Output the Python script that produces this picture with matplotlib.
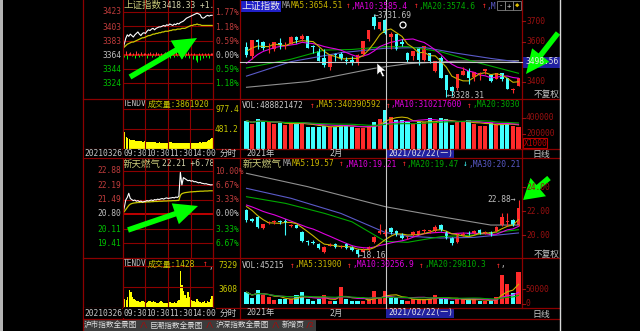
import numpy as np
import pandas as pd
import matplotlib
matplotlib.use("Agg")
import matplotlib.pyplot as plt
from matplotlib.patches import Rectangle, Circle, Polygon, FancyArrow

# ---------------- data ----------------
# 上证指数 daily bars 2021-01-11 .. 2021-03-26
sh_open = [3572, 3527, 3609, 3597, 3565, 3563, 3592, 3580, 3588, 3619, 3611, 3625, 3574, 3554, 3517, 3473, 3540,
           3539, 3507, 3508, 3493, 3540, 3610, 3720, 3660, 3705, 3622, 3634, 3599, 3543, 3526, 3566, 3508, 3544,
           3452, 3518, 3434, 3374, 3371, 3436, 3454, 3424, 3437, 3452, 3432, 3414, 3442, 3419, 3359, 3380]
sh_high = [3599, 3608, 3611, 3600, 3591, 3598, 3615, 3595, 3625, 3625, 3637, 3628, 3582, 3565, 3560, 3534, 3545,
           3546, 3522, 3528, 3537, 3604, 3655, 3732, 3697, 3712, 3648, 3634, 3612, 3547, 3552, 3566, 3577, 3544,
           3505, 3530, 3435, 3382, 3437, 3474, 3469, 3449, 3449, 3463, 3432, 3444, 3442, 3419, 3370, 3421]
sh_low = [3522, 3512, 3563, 3555, 3544, 3553, 3564, 3564, 3586, 3592, 3600, 3565, 3544, 3503, 3476, 3460, 3503,
          3506, 3487, 3486, 3483, 3530, 3603, 3663, 3654, 3636, 3563, 3555, 3579, 3496, 3510, 3483, 3502, 3495,
          3447, 3421, 3328, 3330, 3360, 3436, 3391, 3405, 3412, 3437, 3400, 3414, 3405, 3365, 3346, 3378]
sh_close = [3531, 3608, 3599, 3566, 3566, 3596, 3583, 3583, 3621, 3607, 3624, 3569, 3573, 3505, 3483, 3534, 3533,
            3517, 3502, 3496, 3532, 3603, 3655, 3675, 3696, 3642, 3636, 3564, 3585, 3509, 3551, 3509, 3577, 3503,
            3502, 3421, 3359, 3358, 3437, 3453, 3420, 3447, 3446, 3463, 3405, 3443, 3414, 3367, 3364, 3418]
sh_prior = [3397, 3379, 3414, 3473, 3503, 3528, 3550, 3576, 3570]
sh_vol = [354000, 312000, 375000, 342000, 333000, 312000, 321000, 300000, 333000, 321000, 333000, 279000, 271000,
          271000, 292000, 279000, 279000, 300000, 300000, 279000, 258000, 258000, 279000, 333000, 375000, 488821,
          396000, 367000, 367000, 333000, 312000, 342000, 333000, 383000, 333000, 383000, 375000, 300000, 333000,
          333000, 367000, 312000, 292000, 292000, 321000, 300000, 321000, 321000, 285000, 279000]
sh_ma20_i = [0, 8, 14, 19, 25, 29, 35, 41, 49]
sh_ma20 = [3469, 3512, 3557, 3560, 3574, 3574, 3549, 3500, 3443]
sh_ma30_i = [0, 8, 17, 25, 32, 38, 44, 49]
sh_ma30 = [3429, 3500, 3544, 3566, 3570, 3541, 3516, 3498]
sh_ma60_i = [0, 11, 23, 29, 38, 49]
sh_ma60 = [3374, 3402, 3467, 3490, 3503, 3505]

# 新天燃气 daily bars, same dates
xt_open = [22.08, 21.30, 21.53, 20.61, 20.97, 21.05, 21.15, 21.20, 20.75, 20.80, 20.28, 19.45, 19.45, 19.22, 18.61,
           19.12, 19.22, 19.00, 19.22, 19.03, 18.75, 18.61, 18.80, 19.39, 20.14, 20.05, 20.61, 20.33, 20.06, 19.80,
           20.00, 20.11, 20.30, 20.30, 20.33, 20.83, 20.28, 19.72, 19.39, 20.00, 20.20, 20.20, 20.42, 20.18, 20.22,
           20.33, 20.83, 21.10, 21.25, 20.83]
xt_high = [22.20, 21.40, 21.60, 20.95, 21.20, 21.25, 21.25, 21.30, 20.95, 20.85, 20.35, 19.55, 19.55, 19.30, 19.10,
           19.30, 19.30, 19.15, 19.30, 19.10, 18.80, 18.90, 19.10, 19.90, 20.90, 20.50, 20.70, 20.40, 20.15, 19.95,
           20.30, 20.40, 20.50, 20.45, 20.80, 20.95, 20.35, 19.80, 20.15, 20.25, 20.30, 20.40, 20.50, 20.35, 20.30,
           20.75, 21.80, 21.80, 21.35, 22.88]
xt_low = [21.10, 21.05, 20.60, 20.50, 20.90, 20.95, 20.95, 20.00, 20.65, 20.55, 19.40, 19.20, 19.25, 18.85, 18.50,
          19.05, 18.95, 18.90, 18.85, 18.65, 18.16, 18.55, 18.70, 19.30, 20.05, 19.95, 20.10, 19.95, 19.65, 19.70,
          19.95, 20.05, 20.20, 20.20, 20.25, 20.35, 19.65, 19.20, 19.30, 19.90, 20.00, 20.10, 20.05, 20.10, 19.95,
          20.25, 20.75, 20.75, 20.75, 20.75]
xt_close = [21.25, 21.15, 20.69, 20.89, 21.11, 21.12, 21.05, 21.10, 20.85, 20.60, 19.50, 19.38, 19.35, 18.94, 19.03,
            19.20, 19.00, 19.05, 18.94, 18.75, 18.39, 18.80, 19.00, 19.80, 20.33, 20.15, 20.22, 20.00, 19.72, 19.90,
            20.22, 20.33, 20.40, 20.36, 20.69, 20.42, 19.72, 19.31, 20.06, 20.10, 20.10, 20.30, 20.14, 20.25, 20.00,
            20.69, 21.53, 21.15, 20.80, 22.21]
xt_prior = [22.70, 22.55, 22.80, 22.60, 22.45, 22.75, 22.85, 22.60, 22.40]
xt_vol = [41000, 21000, 46600, 32000, 23300, 12300, 15600, 15600, 17800, 32000, 41000, 15600, 10000, 17800, 32000,
          10000, 10000, 60000, 17800, 10000, 10000, 10000, 15600, 45600, 21000, 45215, 25500, 21000, 12300, 10000,
          15600, 17800, 17800, 17800, 32000, 25500, 15600, 10000, 15600, 15600, 17800, 15600, 10000, 10000, 9000,
          25500, 99000, 67700, 37800, 110000]
xt_ma20_i = [0, 7, 14, 19, 25, 29, 35, 41, 49]
xt_ma20 = [23.19, 22.64, 21.81, 21.10, 19.47, 19.39, 19.86, 20.00, 20.44]
xt_ma30_i = [0, 8, 17, 25, 29, 35, 41, 49]
xt_ma30 = [23.89, 23.06, 21.80, 20.21, 19.90, 19.75, 19.80, 20.17]
xt_ma60_i = [0, 11, 25, 35, 44, 49]
xt_ma60 = [25.14, 24.03, 22.36, 21.53, 20.83, 20.83]

# intraday 2021-03-26, one value every 4 minutes
sh_px = [3370, 3378, 3386, 3391, 3389, 3392, 3390, 3388, 3391, 3393, 3395, 3392, 3390, 3393, 3394, 3393, 3396,
         3398, 3397, 3399, 3400, 3398, 3400, 3401, 3402, 3402, 3403, 3404, 3403, 3405, 3404, 3406, 3405, 3404,
         3406, 3405, 3407, 3406, 3408, 3409, 3410, 3412, 3414, 3415, 3416, 3417, 3418, 3419, 3420, 3421, 3420,
         3419, 3415, 3414, 3415, 3417, 3418, 3417, 3418, 3418]
sh_avg = [3372, 3374, 3376, 3378, 3379, 3380, 3381, 3381, 3382, 3383, 3384, 3385, 3386, 3387, 3387, 3388, 3389,
          3390, 3390, 3391, 3392, 3392, 3393, 3393, 3394, 3394, 3395, 3395, 3396, 3396, 3396, 3397, 3397, 3398,
          3398, 3398, 3399, 3399, 3399, 3400, 3400, 3400, 3401, 3402, 3403, 3404, 3404, 3405, 3405, 3406, 3405,
          3405, 3404, 3404, 3404, 3404, 3404, 3404, 3404, 3404]
sh_force = [4, -3, 5, -6, 3, 4, -2, 3, -4, 5, 2, -3, 4, -2, 3, 3, -5, 2, 4, -3, 3, -2, 4, 2, -4, 3, -3, 2, 4, -2,
            3, -4, 2, 3, -3, 4, -2, 3, 2, -4, 3, -3, 2, 4, -5, 3, -6, 2, -8, -10, 3, -7, 2, -4, 3, -3, 2, -5, 3, 2]
sh_ivol = [935, 420, 300, 260, 240, 230, 220, 210, 200, 205, 195, 190, 185, 180, 185, 175, 170, 170, 165, 160,
           165, 160, 155, 150, 160, 150, 145, 150, 140, 145, 260, 170, 160, 150, 155, 145, 140, 150, 145, 140,
           150, 145, 140, 135, 145, 150, 140, 145, 150, 155, 150, 160, 155, 160, 170, 180, 190, 210, 240, 280]
sh_base = 3363.59

xt_px = [20.84, 21.10, 21.48, 21.60, 21.80, 21.55, 21.50, 21.45, 21.48, 21.42, 21.45, 21.40, 21.43, 21.38, 21.40,
         21.42, 21.45, 21.43, 21.46, 21.48, 21.45, 21.50, 21.48, 21.52, 21.50, 21.53, 21.55, 21.52, 21.56, 21.58,
         21.55, 21.57, 21.58, 21.60, 21.58, 21.62, 21.60, 21.65, 22.80, 22.20, 22.55, 22.50, 22.45, 22.40, 22.42,
         22.38, 22.40, 22.35, 22.36, 22.33, 22.30, 22.32, 22.28, 22.27, 22.25, 22.26, 22.23, 22.22, 22.20, 22.21]
xt_avg = [20.84, 20.92, 21.02, 21.12, 21.22, 21.28, 21.31, 21.33, 21.34, 21.35, 21.36, 21.36, 21.37, 21.37, 21.38,
          21.38, 21.39, 21.39, 21.39, 21.40, 21.40, 21.41, 21.41, 21.41, 21.42, 21.42, 21.42, 21.43, 21.43, 21.43,
          21.44, 21.44, 21.44, 21.45, 21.45, 21.45, 21.46, 21.46, 21.70, 21.78, 21.81, 21.83, 21.84, 21.85, 21.86,
          21.87, 21.87, 21.88, 21.88, 21.89, 21.89, 21.90, 21.90, 21.90, 21.91, 21.91, 21.91, 21.92, 21.92, 21.92]
xt_ivol = [2200, 1500, 1300, 1800, 3000, 2600, 1800, 1400, 1200, 1100, 1000, 900, 1100, 1000, 900, 800, 900, 1100,
           1000, 900, 1000, 900, 800, 700, 900, 1000, 900, 800, 700, 800, 1600, 900, 700, 800, 900, 800, 1000,
           1200, 6400, 4000, 2800, 2200, 1600, 2600, 1800, 1300, 1100, 1000, 900, 1400, 1000, 900, 800, 900, 1100,
           800, 1000, 900, 1500, 1900]
xt_base = 20.80

# ---------------- drawing ----------------
W, H = 640, 331
MONO = ['DejaVu Sans Mono', 'Noto Sans CJK SC']
CJK = ['Noto Sans CJK SC', 'DejaVu Sans']
RED, CYAN = '#ff2a2a', '#40ffff'
BORDER = '#8c0000'
C_MA5, C_MA10, C_MA20, C_MA30, C_MA60 = '#c8b400', '#e000e0', '#00a800', '#5a5ac8', '#909090'
AXLBL = '#9a1010'

fig = plt.figure(figsize=(6.4, 3.31), dpi=100, facecolor='black')
ov = fig.add_axes([0, 0, 1, 1])
ov.set_xlim(0, W)
ov.set_ylim(H, 0)
ov.axis('off')
ov.set_zorder(10)
ov.patch.set_alpha(0)


def pax(x0, y0, x1, y1):
    ax = fig.add_axes([x0 / W, 1 - y1 / H, (x1 - x0) / W, (y1 - y0) / H])
    ax.set_facecolor('black')
    ax.set_xticks([])
    ax.set_yticks([])
    for s in ax.spines.values():
        s.set_visible(False)
    return ax


def put(x, y, s, color='#c0c0c0', size=5.7, fam=MONO, ha='left', ax=None):
    target = ax if ax is not None else ov
    return target.text(x, y, s, color=color, fontsize=size, family=fam, ha=ha, va='center',
                       transform=ov.transData, clip_on=ax is not None)


def ma(vals, prior, n):
    s = pd.Series(list(prior) + list(vals), dtype=float)
    return s.rolling(n, min_periods=1).mean().values[len(prior):]


def candles(ax, o, h, l, c, tiny):
    o, h, l, c = map(np.asarray, (o, h, l, c))
    x = np.arange(len(o))
    col = np.where(c >= o, RED, CYAN)
    ax.vlines(x, l, h, colors=col, lw=0.8)
    ax.bar(x, np.maximum(np.abs(c - o), tiny), bottom=np.minimum(o, c), width=0.64, color=col, lw=0)
    return col


def kpanel(box, o, h, l, c, prior, ylim, tiny, mas):
    ax = pax(*box)
    x = np.arange(len(c))
    for idx, vals, col in mas:
        ax.plot(idx, vals, color=col, lw=0.8)
    ax.plot(x, ma(c, prior, 10), color=C_MA10, lw=0.8)
    ax.plot(x, ma(c, prior, 5), color=C_MA5, lw=0.8)
    col = candles(ax, o, h, l, c, tiny)
    ax.set_xlim(-1.17, 49.63)
    ax.set_ylim(*ylim)
    return col


def vpanel(box, vol, col, top):
    ax = pax(*box)
    x = np.arange(len(vol))
    ax.bar(x, vol, width=0.74, color=col, lw=0)
    for n, c in ((5, C_MA5), (10, C_MA10), (20, C_MA20)):
        ax.plot(x, pd.Series(vol, dtype=float).rolling(n, min_periods=1).mean(), color=c, lw=0.8)
    ax.set_xlim(-1.17, 49.63)
    ax.set_ylim(0, top)


# right K-line panels
col1 = kpanel((240, 0, 522, 99), sh_open, sh_high, sh_low, sh_close, sh_prior, (3316.4, 3803.3), 4,
              [(sh_ma60_i, sh_ma60, C_MA60), (sh_ma30_i, sh_ma30, C_MA30), (sh_ma20_i, sh_ma20, C_MA20)])
vpanel((240, 99, 522, 149), sh_vol, col1, 625000)
col2 = kpanel((240, 158, 522, 258), xt_open, xt_high, xt_low, xt_close, xt_prior, (18.083, 26.417), 0.08,
              [(xt_ma60_i, xt_ma60, C_MA60), (xt_ma30_i, xt_ma30, C_MA30), (xt_ma20_i, xt_ma20, C_MA20)])
vpanel((240, 258, 522, 304), xt_vol, col2, 158600)


# left intraday panels
def ipanel(box, px, avg, base, ylim, levels):
    ax = pax(*box)
    t = np.arange(len(px)) * 4
    for v in levels:
        ax.axhline(v, color=BORDER, lw=0.8)
    ax.axhline(base, color='#c00000', lw=1.4)
    for tv in (60, 120, 180):
        ax.axvline(tv, color=BORDER, lw=0.8)
    ax.plot(t, avg, color='#c8c800', lw=0.9)
    ax.plot(t, px, color='white', lw=0.8)
    ax.set_xlim(0, 238)
    ax.set_ylim(*ylim)
    return ax, t


axL1, tL = ipanel((122.7, 0, 213, 99), sh_px, sh_avg, sh_base, (3302.3, 3439.2), [3423, 3403, 3383, 3344, 3324])
f = np.array(sh_force)
axL1.vlines(tL[f > 0], sh_base, sh_base + f[f > 0], colors='#ff4040', lw=0.7)
axL1.vlines(tL[f < 0], sh_base, sh_base + f[f < 0], colors='#00ff00', lw=0.7)
axL2, _ = ipanel((122.7, 158, 213, 258), xt_px, xt_avg, xt_base, (18.707, 23.487),
                 [22.88, 22.19, 21.49, 20.11, 19.41])


def ivol(box, vol, top, lines):
    ax = pax(*box)
    t = np.arange(len(vol)) * 4
    for v in lines:
        ax.axhline(v, color=BORDER, lw=0.8)
    for tv in (60, 120, 180):
        ax.axvline(tv, color=BORDER, lw=0.8)
    ax.bar(t, vol, width=3.4, color='#ffff00', lw=0, align='edge')
    ax.set_xlim(0, 240)
    ax.set_ylim(0, top)
    return ax


axV1 = ivol((122.7, 99, 213, 149), sh_ivol, 1220, [977.4, 481.2])
axV2 = ivol((122.7, 258, 213, 307), xt_ivol, 8760, [7329, 3608])

# ---------- frame lines ----------
for y in (99, 149, 158, 258, 308, 319):
    ov.plot([83, 560], [y, y], color=BORDER, lw=0.9)
for x, y1 in ((83, 331), (122.7, 319), (213, 308), (240, 319), (522, 308)):
    ov.plot([x, x], [0, y1], color=BORDER, lw=0.9)
ov.add_patch(Rectangle((0, 0), 2.5, H, color='#b4b4b4', lw=0))
ov.plot([560, 560], [0, H], color='#d8d8d8', lw=1.0)

# crosshair
ov.plot([386, 386], [0, 308], color='#c8c8c8', lw=0.8)
ov.plot([240, 522], [62, 62], color='#c8c8c8', lw=0.8)
ov.add_patch(Circle((403, 25), 3, fill=False, ec='white', lw=0.9))
ov.add_patch(Polygon([(377, 63), (377, 75), (380, 72), (382.5, 77), (384.5, 76), (382, 71), (386, 71)],
                     closed=True, fc='white', ec='black', lw=0.4))

# ---------- left texts ----------
put(123, 5, '上证指数', '#c8c878', 6.8, CJK, ax=axL1)
put(162, 5, '3418.33 +1.', '#d8d8b0', ax=axL1)
for v, y, c in (('3423', 11.7, '#c03c3c'), ('3403', 27.3, '#c03c3c'), ('3383', 41.7, '#c03c3c'),
                ('3364', 55, '#c0c0c0'), ('3344', 70, '#00c000'), ('3324', 83.3, '#00c000')):
    put(121, y, v, c, ha='right')
for v, y, c in (('1.77%', 12.5, '#c03c3c'), ('1.18%', 27.3, '#c03c3c'), ('0.59%', 41.7, '#c03c3c'),
                ('0.00%', 55, '#c0c0c0'), ('0.59%', 70, '#00c000'), ('1.18%', 83.3, '#00c000')):
    put(215, y, v, c)
put(123, 104, 'TENDV', '#c0c0c0', ax=axV1)
put(148, 104, '成交量:3861920', '#c8c800', ax=axV1)
put(215, 110, '977.4', '#c8c800')
put(215, 130, '481.2', '#c8c800')

put(123, 164, '新天燃气', '#c8c878', 6.8, CJK, ax=axL2)
put(162, 164, '22.21 +6.78', '#d8d8b0', ax=axL2)
for v, y, c in (('22.88', 170.7, '#c03c3c'), ('22.19', 185, '#c03c3c'), ('21.49', 199.3, '#c03c3c'),
                ('20.80', 213.3, '#c0c0c0'), ('20.11', 229, '#00c000'), ('19.41', 243.3, '#00c000')):
    put(121, y, v, c, ha='right')
for v, y, c in (('10.00%', 171.5, '#c03c3c'), ('6.67%', 185, '#c03c3c'), ('3.33%', 199.3, '#c03c3c'),
                ('0.00%', 213.3, '#c0c0c0'), ('3.33%', 229, '#00c000'), ('6.67%', 243.3, '#00c000')):
    put(215, y, v, c)
put(123, 264, 'TENDV', '#c0c0c0', ax=axV2)
put(148, 264, '成交量:1428', '#c8c800', ax=axV2)
put(203, 264, '↑', RED, ax=axV2)
put(208, 266, ',', '#c0c0c0', ax=axV2)
put(218, 265, '7329', '#c8c800')
put(218, 290, '3608', '#c8c800')

for y in (153.5, 313):
    for x, s in ((84, '20210326'), (123, '09:30'), (146, '10:30'), (169, '11:30'), (192, '14:00')):
        t = put(x, y, s, '#c8c8c8')
        t.set_bbox(dict(facecolor='black', edgecolor='none', pad=0.2))
    put(220, y, '分时', '#c8c8c8', 6.2, CJK)

# ---------- right texts ----------
ov.add_patch(Rectangle((240, 0.5), 41, 11, color='#2020c8', lw=0))
put(242, 6, '上证指数', '#e8e8e8', 7.0, CJK)
put(282, 6, 'MA', '#a0a0a0')
put(291, 6, 'MA5:3654.51', C_MA5)
put(346, 6, '↑', RED)
put(351, 6, ',MA10:3585.4', C_MA10)
put(414, 6, '↑', RED)
put(419, 6, ',MA20:3574.6', C_MA20)
put(482, 6, '↑', RED)
put(487, 6, ',M', C_MA30)
for x, s, c in ((497, '-', '#d0d0d0'), (505, '+', '#d0d0d0'), (513, '◆', '#e0c000')):
    ov.add_patch(Rectangle((x, 1), 7.5, 9, fill=False, ec='#808080', lw=0.6))
    put(x + 3.75, 5.5, s, c, 5.2, ha='center')
put(374, 15, '←3731.69', '#c0c0c0')
put(447, 95, '←3328.31', '#c0c0c0')

for y, s in ((21, '3700'), (42, '3600'), (82, '3400'), (118, '400000'), (134, '200000'),
             (187, '24.00'), (211, '22.00'), (235, '20.00'), (289, '50000'), (303.5, '0')):
    ov.plot([522, 525], [y, y], color=AXLBL, lw=0.8)
    put(526, y, s, AXLBL)
ov.add_patch(Rectangle((522, 57), 38, 10.5, color='#2020a0', lw=0))
put(525, 62, '3498.56', '#e8e8e8')
ov.add_patch(Rectangle((523, 138), 24, 10, fill=False, ec='#c00000', lw=0.8))
put(524, 143, 'X1000', '#c00000')
put(534, 94, '不复权', '#c8c8c8', 6.2, CJK)
put(534, 254, '不复权', '#c8c8c8', 6.2, CJK)

put(242, 105, 'VOL:488821472', '#c8c8c8')
put(310, 105, '↑', RED)
put(315, 105, ',MA5:340390592', C_MA5)
put(386, 105, '↑', RED)
put(391, 105, ',MA10:310217600', C_MA10)
put(467, 105, '↑', RED)
put(472, 105, ',MA20:3030', C_MA20)

put(243, 164, '新天燃气', '#c8c878', 7.0, CJK)
put(283, 164, 'MA', '#a0a0a0')
put(292, 164, 'MA5:19.57', C_MA5)
put(339, 164, '↑', RED)
put(344, 164, ',MA10:19.21', C_MA10)
put(402, 164, '↑', RED)
put(407, 164, ',MA20:19.47', C_MA20)
put(463, 164, '↓', CYAN)
put(468, 164, ',MA30:20.21', C_MA30)
put(516, 199, '22.88→', '#c0c0c0', ha='right')
put(358, 255, '←18.16', '#c0c0c0')

put(242, 265, 'VOL:45215', '#c8c8c8')
put(290, 265, '↑', RED)
put(295, 265, ',MA5:31900', C_MA5)
put(347, 265, '↑', RED)
put(352, 265, ',MA10:30256.9', C_MA10)
put(419, 265, '↑', RED)
put(424, 265, ',MA20:29810.3', C_MA20)
put(496, 265, '↑', RED)
put(501, 265, ',', '#c0c0c0')

for y in (153.5, 313):
    put(246, y, '2021年', '#c8c8c8', 6.0)
    put(329, y, '2月', '#c8c8c8', 6.0)
    ov.add_patch(Rectangle((386, y - 4.5), 68, 9.5, color='#2020a0', lw=0))
    put(388, y, '2021/02/22(一)', '#e8e8e8', 5.7)
    put(532, y + 1, '日线', '#c8c8c8', 6.4, CJK)

# tab bar
ov.add_patch(Rectangle((83.5, 320), 232, 11, color='#3c3c3c', lw=0))
for x, s in ((84, '沪市指数全景图'), (150, '巨潮指数全景图'), (216, '沪深指数全景图'), (282, '新增页')):
    put(x, 325.5, s, '#e0e0e0', 5.5, CJK)
for x in (140, 206, 272):
    put(x, 325.5, '/\\', '#c00000', 5.0)
put(306, 325.5, '/2', '#c00000', 5.0)

# hand-drawn green arrows
for x0, y0, x1, y1, hw, hl in ((130, 77, 197, 38, 22, 24), (128, 230, 198, 206, 22, 24),
                               (558, 33, 526, 74, 22, 24), (549, 178, 523, 200, 24, 20)):
    ov.add_patch(FancyArrow(x0, y0, x1 - x0, y1 - y0, width=5.5, head_width=hw, head_length=hl,
                            length_includes_head=True, color='#00ff00', lw=0))

fig.savefig('out.png', dpi=100, facecolor='black')
